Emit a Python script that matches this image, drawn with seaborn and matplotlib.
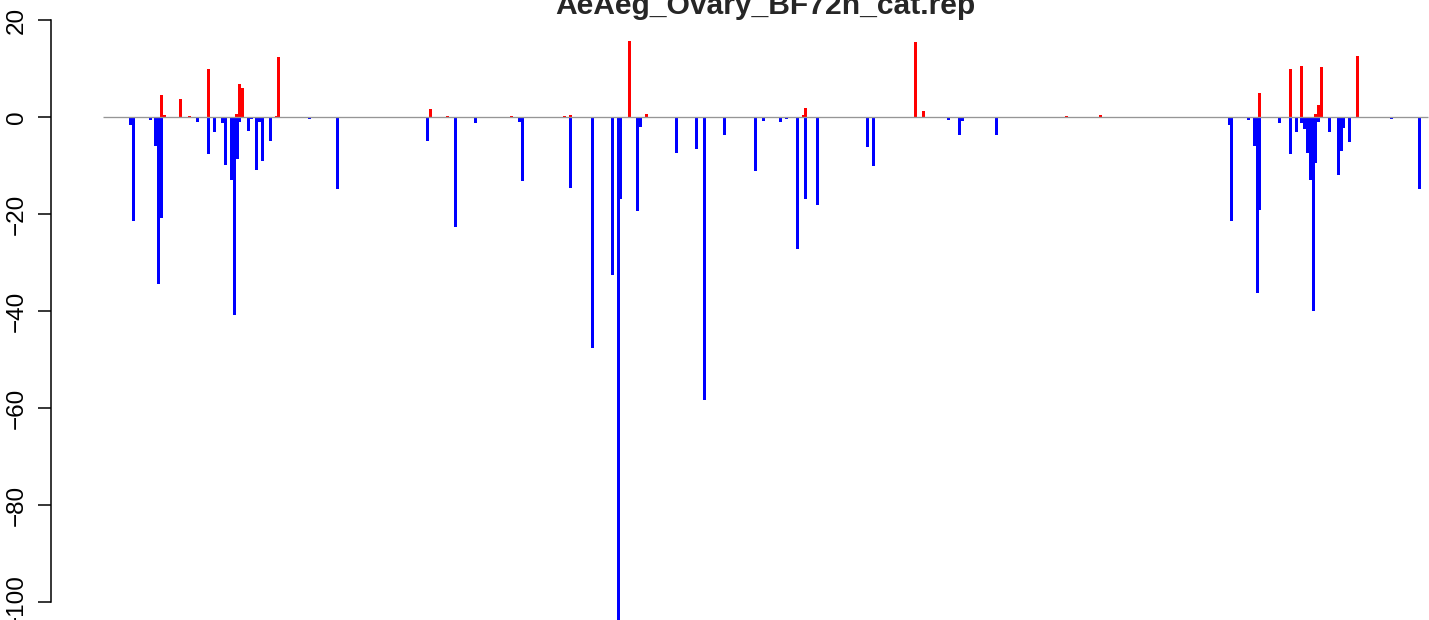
import numpy as np
import pandas as pd
import matplotlib
matplotlib.use("Agg")
import matplotlib.pyplot as plt
import seaborn as sns

title = "AeAeg_Ovary_BF72h_cat.rep"

# positions along the cluster (start of region = 0) and read counts per strand
red_pos = [58.5, 61.5, 77.5, 86.5, 105.5, 133.5, 136.5, 139.5, 173, 175.5,
           327.5, 344.5, 366.5, 369.5, 408.5, 447.5, 461.5, 467.5, 512.5, 526.5,
           543.5, 700.5, 702.5, 812.5, 820.5, 837.5, 963.5, 997.5, 1156.5, 1159.5,
           1187.5, 1198.5, 1212.5, 1215.5, 1218.5, 1254.5]
red_val = [4.5, 0.4, 3.7, 0.2, 9.9, 0.6, 6.8, 6.0, 0.2, 12.4,
           1.6, 0.2, 0.1, 0.1, 0.2, 0.1, 0.2, 0.4, 0.1, 15.7,
           0.6, 0.4, 1.9, 15.5, 1.2, 0.1, 0.2, 0.4, 4.9, 0.1,
           9.9, 10.5, 0.6, 2.5, 10.3, 12.6]

blue_pos = [27.5, 30.5, 47.5, 52.5, 55.5, 58.5, 94.5, 105.5, 111.5, 119.5,
            122.5, 128.5, 131.5, 134.5, 136.5, 145.5, 148, 153.5, 156.5, 159.5,
            164.5, 167.5, 206.5, 234.5, 237.5, 246.5, 251.5, 324.5, 352.5, 358.5,
            372.5, 380.5, 416.5, 419.5, 467.5, 489.5, 509.5, 515.5, 517.5, 534.5,
            537.5, 573.5, 593.5, 601.5, 621.5, 632.5, 652.5, 660.5, 677.5, 683.5,
            694.5, 702.5, 714.5, 764.5, 770.5, 814.5, 845.5, 856.5, 859.5, 893.5,
            935.5, 1120.5, 1126.5, 1128.5, 1145.5, 1151.5, 1154.5, 1156.5, 1176.5, 1187.5,
            1193.5, 1198.5, 1201.5, 1204.5, 1207.5, 1210.5, 1212.5, 1215.5, 1226.5, 1235.5,
            1238.5, 1240.5, 1246.5, 1288.5, 1316.5, 1319.5]
blue_val = [-1.6, -21.4, -0.6, -6.0, -34.4, -20.8, -1.0, -7.6, -3.1, -1.2,
            -9.9, -13.0, -40.8, -8.7, -1.0, -2.9, -0.4, -10.9, -1.0, -9.1,
            -0.2, -4.9, -0.4, -14.8, -0.15, -0.15, -0.15, -4.9, -22.7, -0.15,
            -1.2, -0.15, -1.0, -13.2, -14.6, -47.6, -32.6, -104.0, -16.9, -19.4,
            -2.1, -7.4, -6.6, -58.4, -3.7, -0.2, -11.1, -0.8, -1.0, -0.4,
            -27.2, -16.9, -18.2, -6.2, -10.1, -0.2, -0.6, -3.7, -0.8, -3.7,
            -0.2, -0.2, -1.6, -21.4, -0.6, -6.0, -36.3, -19.2, -1.2, -7.6,
            -3.1, -1.2, -2.5, -7.4, -13.0, -40.0, -9.5, -1.0, -3.1, -12.0,
            -7.0, -2.3, -5.2, -0.4, -14.8, -0.15]

region_start = 0
region_end = 1325
yticks = [-100, -80, -60, -40, -20, 0, 20]

df = pd.concat([
    pd.DataFrame({"pos": red_pos, "count": red_val, "strand": "sense"}),
    pd.DataFrame({"pos": blue_pos, "count": blue_val, "strand": "antisense"}),
], ignore_index=True)

sns.set_theme(style="white")
plt.rcParams["font.family"] = ["Liberation Sans", "DejaVu Sans"]

fig = plt.figure(figsize=(14.29, 6.2), dpi=100)
ax = fig.add_axes([50.5 / 1429, 0, 1378.5 / 1429, 1])

# bars are 3 units wide; seaborn's native width is the smallest gap between positions
min_gap = np.min(np.diff(np.unique(df["pos"])))
sns.barplot(data=df, x="pos", y="count", hue="strand", native_scale=True,
            palette={"sense": "#FF0000", "antisense": "#0000FF"},
            dodge=False, errorbar=None, saturation=1, width=3 / min_gap,
            linewidth=0, edgecolor="none", legend=False, ax=ax)

ax.hlines(0, region_start, region_end, color="#969696", linewidth=0.95, zorder=5)

ax.set_xlim(-52.5, 1326)
ax.set_ylim(-103.71, 24.12)
ax.set_xlabel("")
ax.set_ylabel("")
ax.set_xticks([])
ax.set_yticks(yticks)
ax.set_yticklabels([str(t).replace("-", "\u2212") for t in yticks], rotation=90, va="center")
ax.tick_params(axis="y", direction="out", length=9.6, width=1.1, pad=6.6,
               labelsize=17.5, colors="black", left=True)
for s in ["top", "right", "bottom"]:
    ax.spines[s].set_visible(False)
ax.spines["left"].set_bounds(-100, 20)
ax.spines["left"].set_color("black")
ax.spines["left"].set_linewidth(1.1)
ax.patch.set_alpha(0)

fig.text(765 / 1429, 1 - 14 / 620, title, ha="center", va="baseline",
         fontsize=21.6, fontweight="bold")

fig.savefig("out.png", dpi=100)
